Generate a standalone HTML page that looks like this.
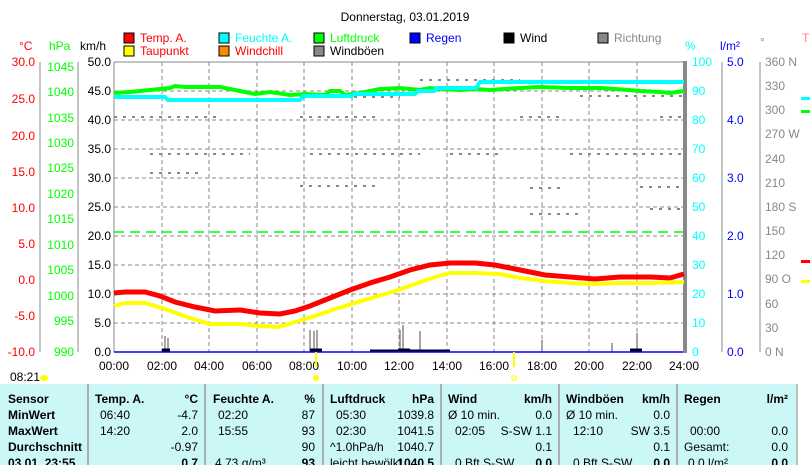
<!DOCTYPE html>
<html><head><meta charset="utf-8"><style>
body{margin:0;width:810px;height:465px;background:#fff;overflow:hidden;font-family:"Liberation Sans",sans-serif}
svg{position:absolute;left:0;top:0}
text{font-family:"Liberation Sans",sans-serif;font-size:12px}
</style></head><body>
<svg width="810" height="465" xmlns="http://www.w3.org/2000/svg">
<text x="405" y="21" font-size="16" text-anchor="middle" fill="#000">Donnerstag, 03.01.2019</text>
<g font-size="11.5">
<rect x="124" y="33" width="10" height="10" fill="#f00" stroke="#000"/><text x="140" y="42" fill="#f00">Temp. A.</text>
<rect x="124" y="46" width="10" height="10" fill="#ff0" stroke="#000"/><text x="140" y="55" fill="#f00">Taupunkt</text>
<rect x="219" y="33" width="10" height="10" fill="#0ff" stroke="#000"/><text x="235" y="42" fill="#0ff">Feuchte A.</text>
<rect x="219" y="46" width="10" height="10" fill="#f80" stroke="#000"/><text x="235" y="55" fill="#f00">Windchill</text>
<rect x="314" y="33" width="10" height="10" fill="#0f0" stroke="#000"/><text x="330" y="42" fill="#0f0">Luftdruck</text>
<rect x="314" y="46" width="10" height="10" fill="#888" stroke="#000"/><text x="330" y="55" fill="#000">Windböen</text>
<rect x="410" y="33" width="10" height="10" fill="#00f" stroke="#000"/><text x="426" y="42" fill="#00f">Regen</text>
<rect x="504" y="33" width="10" height="10" fill="#000" stroke="#000"/><text x="520" y="42" fill="#000">Wind</text>
<rect x="598" y="33" width="10" height="10" fill="#888" stroke="#000"/><text x="614" y="42" fill="#888">Richtung</text>
</g>
<text x="19" y="50" fill="#f00">°C</text><text x="49" y="50" fill="#0f0">hPa</text><text x="80" y="50" fill="#000">km/h</text>
<text x="685" y="50" fill="#0ff">%</text><text x="720" y="50" fill="#00f">l/m²</text><text x="760" y="46" fill="#888" font-size="9">°</text>
<text x="802" y="42" fill="#f88">T</text>
<g stroke="#888" stroke-dasharray="4,3" stroke-width="1">
<path d="M114 91H683M114 120H683M114 149H683M114 178H683M114 207H683M114 236H683M114 265H683M114 294H683M114 323H683"/>
<path d="M162 62V352M209 62V352M257 62V352M304 62V352M352 62V352M399 62V352M447 62V352M494 62V352M542 62V352M589 62V352M637 62V352"/>
</g>
<g stroke="#888" stroke-width="1" fill="none">
<path d="M114 62H683M114 62V352"/>
<path d="M40 62V352M78 62V352"/>
<path d="M722 62V352M760 62V352"/>
</g>
<rect x="683" y="61" width="4" height="292" fill="#888"/>
<g font-size="12" text-anchor="end">
<g fill="#f00"><text x="35" y="66">30.0</text><text x="35" y="103">25.0</text><text x="35" y="140">20.0</text><text x="35" y="176">15.0</text><text x="35" y="212">10.0</text><text x="35" y="248">5.0</text><text x="35" y="284">0.0</text><text x="35" y="320">-5.0</text><text x="35" y="356">-10.0</text></g>
<g fill="#0f0"><text x="74" y="71">1045</text><text x="74" y="96">1040</text><text x="74" y="122">1035</text><text x="74" y="147">1030</text><text x="74" y="172">1025</text><text x="74" y="198">1020</text><text x="74" y="223">1015</text><text x="74" y="249">1010</text><text x="74" y="274">1005</text><text x="74" y="300">1000</text><text x="74" y="325">995</text><text x="74" y="356">990</text></g>
<g fill="#000"><text x="111" y="66">50.0</text><text x="111" y="95">45.0</text><text x="111" y="124">40.0</text><text x="111" y="153">35.0</text><text x="111" y="182">30.0</text><text x="111" y="211">25.0</text><text x="111" y="240">20.0</text><text x="111" y="269">15.0</text><text x="111" y="298">10.0</text><text x="111" y="327">5.0</text><text x="111" y="356">0.0</text></g>
</g>
<g font-size="12">
<g fill="#0ff"><text x="692" y="66">100</text><text x="692" y="95">90</text><text x="692" y="124">80</text><text x="692" y="153">70</text><text x="692" y="182">60</text><text x="692" y="211">50</text><text x="692" y="240">40</text><text x="692" y="269">30</text><text x="692" y="298">20</text><text x="692" y="327">10</text><text x="692" y="356">0</text></g>
<g fill="#00f"><text x="727" y="66">5.0</text><text x="727" y="124">4.0</text><text x="727" y="182">3.0</text><text x="727" y="240">2.0</text><text x="727" y="298">1.0</text><text x="727" y="356">0.0</text></g>
<g fill="#888"><text x="765" y="66">360 N</text><text x="765" y="90">330</text><text x="765" y="114">300</text><text x="765" y="138">270 W</text><text x="765" y="163">240</text><text x="765" y="187">210</text><text x="765" y="211">180 S</text><text x="765" y="235">150</text><text x="765" y="259">120</text><text x="765" y="283">90  O</text><text x="765" y="308">60</text><text x="765" y="332">30</text><text x="765" y="356">0   N</text></g>
</g>
<g font-size="12" text-anchor="middle" fill="#000">
<text x="114" y="370">00:00</text><text x="162" y="370">02:00</text><text x="209" y="370">04:00</text><text x="257" y="370">06:00</text><text x="304" y="370">08:00</text><text x="352" y="370">10:00</text><text x="399" y="370">12:00</text><text x="447" y="370">14:00</text><text x="494" y="370">16:00</text><text x="542" y="370">18:00</text><text x="589" y="370">20:00</text><text x="637" y="370">22:00</text><text x="684" y="370">24:00</text>
</g>
<g stroke="#888" stroke-width="2" stroke-dasharray="3,6">
<path d="M114 117H220M300 117H380M520 117H560M660 117H683"/>
<path d="M150 154H250M310 154H420M450 154H500M570 154H683"/>
<path d="M150 173H200M300 186H380M530 188H560M640 187H683"/>
<path d="M300 97H400M420 80H520M580 96H683"/>
<path d="M530 214H580M650 209H683"/>
</g>
<path d="M114 232H683" stroke="#0f0" stroke-width="1.5" stroke-dasharray="10,6"/>
<polyline fill="none" stroke="#0f0" stroke-width="4" points="114,93 130,92 150,90 170,88 175,86 185,87 220,87 240,91 255,94 270,92 290,95 305,94 325,95 330,91 340,91 345,95 360,93 380,89 400,88 420,90 430,88 440,89 460,90 475,89 490,90 520,88 540,87 570,88 600,88 615,89 640,91 660,92 670,93 684,91"/>
<polyline fill="none" stroke="#0ff" stroke-width="4" points="114,97 165,97 168,100 300,100 303,96 352,96 355,94 415,94 418,91 434,91 437,88 476,88 480,82 684,82"/>
<polyline fill="none" stroke="#f00" stroke-width="5" points="114,293 125,292 145,292 160,296 175,302 195,307 215,311 240,310 260,313 280,314 295,311 310,306 330,298 350,290 370,283 390,277 410,270 430,265 450,263 475,263 495,265 520,270 545,275 570,277 595,279 620,277 650,277 670,278 684,274"/>
<polyline fill="none" stroke="#ff0" stroke-width="4" points="114,306 125,303 145,303 165,309 190,318 210,324 240,324 260,326 278,327 295,322 315,316 335,309 355,303 375,297 395,291 415,284 435,277 450,273 475,273 500,274 520,278 545,281 570,283 595,284 620,283 650,283 684,282"/>
<g stroke="#888" stroke-width="1.5" fill="none">
<path d="M165 352V336M168 352V338M310 352V330M314 352V331M317 352V330M400 352V330M403 352V325M420 352V331M542 352V340M612 352V343M637 352V333"/>
</g>
<g stroke="#000" stroke-width="3"><path d="M162 350H170M310 350H322M398 350H410M630 350H642M370 351H450"/></g>
<path d="M114 352H683" stroke="#00f" stroke-width="1.5"/>
<path d="M316 352V367M514 352V367" stroke="#ff0" stroke-width="2"/>
<circle cx="316" cy="378" r="3" fill="#ff0"/><rect x="512" y="376" width="4" height="4" fill="none" stroke="#ff0"/>
<text x="10" y="381" fill="#000">08:21</text><ellipse cx="44" cy="378" rx="4" ry="3" fill="#ff0"/>
<rect x="801" y="97" width="9" height="3" fill="#0ff"/><rect x="801" y="110" width="9" height="3" fill="#0f0"/><rect x="801" y="260" width="9" height="3" fill="#f00"/><rect x="801" y="280" width="9" height="3" fill="#ff0"/>
<rect x="0" y="384" width="797" height="81" fill="#ccf7f7"/>
<rect x="797" y="384" width="13" height="81" fill="#fff"/>
<path d="M797 384V465" stroke="#888"/>
<g stroke="#999" stroke-width="1.5"><path d="M88 384V465M205 384V465M323 384V465M441 384V465M559 384V465M677 384V465"/></g>
<g font-size="12" fill="#000">
<g font-weight="bold"><text x="8" y="403">Sensor</text><text x="8" y="419">MinWert</text><text x="8" y="435">MaxWert</text><text x="8" y="451">Durchschnitt</text><text x="8" y="467">03.01. 23:55</text>
<text x="95" y="403">Temp. A.</text><text x="198" y="403" text-anchor="end">°C</text>
<text x="213" y="403">Feuchte A.</text><text x="315" y="403" text-anchor="end">%</text>
<text x="330" y="403">Luftdruck</text><text x="434" y="403" text-anchor="end">hPa</text>
<text x="448" y="403">Wind</text><text x="552" y="403" text-anchor="end">km/h</text>
<text x="566" y="403">Windböen</text><text x="670" y="403" text-anchor="end">km/h</text>
<text x="684" y="403">Regen</text><text x="788" y="403" text-anchor="end">l/m²</text>
<text x="198" y="467" text-anchor="end">0.7</text><text x="315" y="467" text-anchor="end">93</text><text x="434" y="467" text-anchor="end">1040.5</text><text x="552" y="467" text-anchor="end">0.0</text><text x="670" y="467" text-anchor="end">0.0</text><text x="788" y="467" text-anchor="end">0.0</text></g>
<text x="100" y="419">06:40</text><text x="198" y="419" text-anchor="end">-4.7</text><text x="100" y="435">14:20</text><text x="198" y="435" text-anchor="end">2.0</text><text x="198" y="451" text-anchor="end">-0.97</text>
<text x="218" y="419">02:20</text><text x="315" y="419" text-anchor="end">87</text><text x="218" y="435">15:55</text><text x="315" y="435" text-anchor="end">93</text><text x="315" y="451" text-anchor="end">90</text><text x="215" y="467">4.73 g/m³</text>
<text x="336" y="419">05:30</text><text x="434" y="419" text-anchor="end">1039.8</text><text x="336" y="435">02:30</text><text x="434" y="435" text-anchor="end">1041.5</text><text x="330" y="451">^1.0hPa/h</text><text x="434" y="451" text-anchor="end">1040.7</text><text x="330" y="467">leicht bewölkt</text>
<text x="448" y="419">Ø 10 min.</text><text x="552" y="419" text-anchor="end">0.0</text><text x="455" y="435">02:05</text><text x="552" y="435" text-anchor="end">S-SW 1.1</text><text x="552" y="451" text-anchor="end">0.1</text><text x="455" y="467">0 Bft S-SW</text>
<text x="566" y="419">Ø 10 min.</text><text x="670" y="419" text-anchor="end">0.0</text><text x="573" y="435">12:10</text><text x="670" y="435" text-anchor="end">SW 3.5</text><text x="670" y="451" text-anchor="end">0.1</text><text x="573" y="467">0 Bft S-SW</text>
<text x="690" y="435">00:00</text><text x="788" y="435" text-anchor="end">0.0</text><text x="684" y="451">Gesamt:</text><text x="788" y="451" text-anchor="end">0.0</text><text x="688" y="467">0.0 l/m²</text>
</g>
</svg>
</body></html>
